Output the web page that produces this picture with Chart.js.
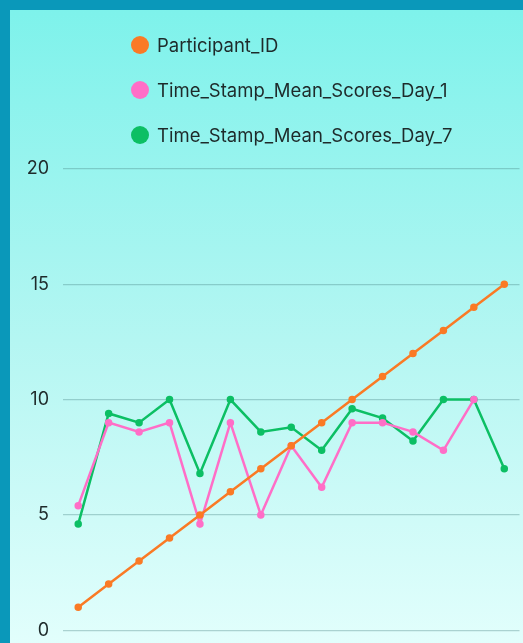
<!DOCTYPE html>
<html>
<head>
<meta charset="utf-8">
<script src="https://cdn.jsdelivr.net/npm/chart.js@4"></script>
<style>
  html, body { margin: 0; padding: 0; width: 523px; height: 643px; overflow: hidden; background: #0a98ba; }
  .panel {
    position: absolute; left: 10px; top: 10px; width: 540px; height: 660px;
    background: linear-gradient(to bottom, #7ef2eb 0%, #b4f6f2 50%, #e6fffd 100%);
  }
  #chart { position: absolute; left: 0; top: 0; }
  .legend { position: absolute; left: 121px; top: 12px; font-family: Inter, "Open Sans", sans-serif; font-size: 18.5px; color: #1e2a2a; }
  .legend div { height: 45px; display: flex; align-items: center; }
  .legend span.dot { width: 18px; height: 18px; border-radius: 50%; margin-right: 8px; display: inline-block; }
</style>
</head>
<body>
<div class="panel">
  <canvas id="chart" width="515" height="645"></canvas>
  <div class="legend" id="legend"></div>
</div>
<script>
// data
const participants = ['1', '2', '3', '4', '5', '6', '7', '8', '9', '10', '11', '12', '13', '14', '15'];
const participantId = [1, 2, 3, 4, 5, 6, 7, 8, 9, 10, 11, 12, 13, 14, 15];
const scoresDay1 = [5.4, 9, 8.6, 9, 4.6, 9, 5, 8, 6.2, 9, 9, 8.6, 7.8, 10];
const scoresDay7 = [4.6, 9.4, 9, 10, 6.8, 10, 8.6, 8.8, 7.8, 9.6, 9.2, 8.2, 10, 10, 7];
const yTicks = [0, 5, 10, 15, 20];

const seriesNames = ['Participant_ID', 'Time_Stamp_Mean_Scores_Day_1', 'Time_Stamp_Mean_Scores_Day_7'];
const seriesColors = ['#fa7a25', '#ff6ec7', '#0cbf64'];
const seriesData = [participantId, scoresDay1, scoresDay7];

const datasets = seriesNames.map((name, i) => ({
  label: name,
  data: seriesData[i],
  borderColor: seriesColors[i],
  backgroundColor: seriesColors[i],
  borderWidth: 2.5,
  pointRadius: 2.5,
  pointHoverRadius: 3,
  tension: 0
}));

// legend is stacked on the left, so build it by hand
const legendEl = document.getElementById('legend');
seriesNames.forEach((name, i) => {
  const row = document.createElement('div');
  row.innerHTML = '<span class="dot" style="background:' + seriesColors[i] + '"></span>' + name;
  legendEl.appendChild(row);
});

new Chart(document.getElementById('chart'), {
  type: 'line',
  data: { labels: participants, datasets: datasets },
  options: {
    responsive: false,
    animation: false,
    layout: { padding: { top: 159, bottom: 0, left: 0, right: 0 } },
    plugins: { legend: { display: false }, tooltip: { enabled: false } },
    scales: {
      x: {
        display: false,
        offset: true
      },
      y: {
        min: 0,
        max: 20,
        afterFit: (scale) => { scale.width = 53; },
        afterBuildTicks: (scale) => { scale.ticks = yTicks.map(v => ({ value: v })); },
        border: { display: false },
        grid: { color: 'rgba(70, 130, 130, 0.35)', lineWidth: 1.2, drawTicks: false },
        ticks: {
          padding: 14,
          color: '#1e2a2a',
          font: { family: 'Inter, "Open Sans", sans-serif', size: 18 }
        }
      }
    }
  }
});
</script>
</body>
</html>
